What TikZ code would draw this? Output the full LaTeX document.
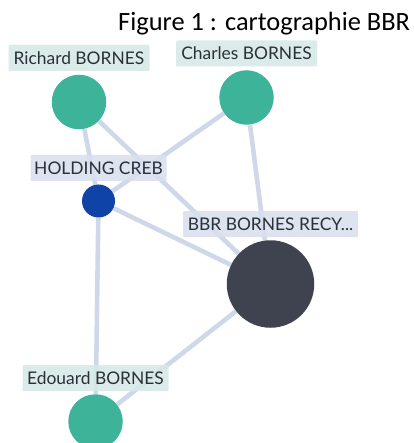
\documentclass[tikz,border=0pt]{standalone}
\usepackage{fontspec}
\setmainfont{Lato}
\newfontfamily\titlefont{Carlito}
\usetikzlibrary{backgrounds}
\definecolor{teal1}{HTML}{3DB39A}
\definecolor{navy1}{HTML}{0F43A8}
\definecolor{slate1}{HTML}{3F434F}
\definecolor{edge1}{HTML}{CFD8E9}
\definecolor{lab1}{HTML}{D6E8E6}
\definecolor{lab2}{HTML}{D9DFEE}
\definecolor{ink1}{HTML}{2A3038}
\tikzset{
  dot/.style={circle,inner sep=0pt,draw=none},
  personlabel/.style={fill=lab1,fill opacity=.88,text opacity=1,text=ink1,font=\fontsize{17.4}{19}\selectfont,inner sep=0pt,rounded corners=1pt,anchor=center,text depth=0pt},
  orglabel/.style={personlabel,fill=lab2},
  link/.style={draw=edge1,line width=4.6pt}
}
\begin{document}
\begin{tikzpicture}[x=1pt,y=-1pt]
\clip (0,0) rectangle (413,443);
\path[use as bounding box] (0,0) rectangle (413,443);
\node[dot,fill=teal1,minimum size=54.5pt] (richard) at (79,102) {};
\node[dot,fill=teal1,minimum size=54.5pt] (charles) at (246.5,97.5) {};
\node[dot,fill=navy1,minimum size=33pt] (holding) at (98.5,201) {};
\node[dot,fill=slate1,minimum size=87.5pt] (bbr) at (270.5,284) {};
\node[dot,fill=teal1,minimum size=54.5pt] (edouard) at (95.5,421.5) {};
\begin{scope}[on background layer]
  \draw[link] (richard) -- (holding);
  \draw[link] (richard) -- (bbr);
  \draw[link] (charles) -- (holding);
  \draw[link] (charles) -- (bbr);
  \draw[link] (holding) -- (bbr);
  \draw[link] (holding) -- (edouard);
  \draw[link] (bbr) -- (edouard);
\end{scope}
\node[personlabel,minimum width=141pt,minimum height=26pt] (lrichard) at (79,58) {Richard BORNES};
\node[personlabel,minimum width=141pt,minimum height=26pt] (lcharles) at (246.5,53.5) {Charles BORNES};
\node[orglabel,minimum width=136pt,minimum height=26pt] (lholding) at (98.5,168) {HOLDING CREB};
\node[orglabel,minimum width=175pt,minimum height=26pt] (lbbr) at (270.5,224) {BBR BORNES RECY...};
\node[personlabel,minimum width=146pt,minimum height=26pt] (ledouard) at (95.5,378) {Edouard BORNES};
\node[font=\titlefont\fontsize{26.4}{28}\selectfont,text=black,inner sep=0pt,anchor=base west] (title) at (118,31) {Figure 1 : cartographie BBR};
\end{tikzpicture}
\end{document}
